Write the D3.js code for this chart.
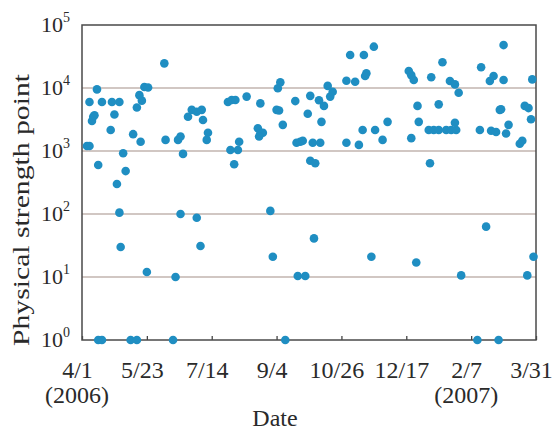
<!DOCTYPE html>
<html>
<head>
<meta charset="utf-8">
<script src="https://cdn.jsdelivr.net/npm/d3@7"></script>
<style>
  body { margin: 0; background: #fff; }
  text { font-family: 'Liberation Serif', 'Times New Roman', serif; fill: #2a2a2a; }
</style>
</head>
<body>
<div id="chart"></div>
<script>
// observation dates (2006-04-01 .. 2007-03-31)
const dates = [
  '2006-04-05', '2006-04-07', '2006-04-07', '2006-04-13', '2006-04-09', '2006-04-10', '2006-04-11', '2006-04-14',
  '2006-04-17', '2006-04-14', '2006-04-17', '2006-04-25', '2006-05-01', '2006-04-27', '2006-04-24', '2006-05-04',
  '2006-05-06', '2006-04-29', '2006-05-01', '2006-05-02', '2006-05-10', '2006-05-15', '2006-05-12', '2006-05-18',
  '2006-05-15', '2006-05-17', '2006-05-19', '2006-05-21', '2006-05-24', '2006-06-06', '2006-06-07', '2006-05-23',
  '2006-06-13', '2006-06-15', '2006-06-17', '2006-06-19', '2006-06-21', '2006-06-19', '2006-06-25', '2006-06-28',
  '2006-07-02', '2006-07-06', '2006-07-07', '2006-07-11', '2006-07-10', '2006-07-02', '2006-07-05', '2006-07-27',
  '2006-07-29', '2006-07-30', '2006-08-02', '2006-08-11', '2006-08-22', '2006-08-04', '2006-08-05', '2006-08-01',
  '2006-08-20', '2006-08-22', '2006-08-24', '2006-08-21', '2006-09-04', '2006-09-06', '2006-09-05', '2006-09-07',
  '2006-09-09', '2006-08-30', '2006-09-01', '2006-09-11', '2006-09-19', '2006-09-20', '2006-09-23', '2006-09-25',
  '2006-10-01', '2006-09-29', '2006-10-03', '2006-10-09', '2006-10-01', '2006-10-05', '2006-09-21', '2006-09-27',
  '2006-10-04', '2006-10-08', '2006-10-12', '2006-10-10', '2006-10-15', '2006-10-17', '2006-10-19', '2006-10-30',
  '2006-11-06', '2006-11-02', '2006-11-13', '2006-11-15', '2006-11-14', '2006-11-21', '2006-10-30', '2006-11-09',
  '2006-11-12', '2006-11-22', '2006-11-28', '2006-12-02', '2006-11-19', '2006-12-19', '2006-12-21', '2006-12-23',
  '2006-12-26', '2006-12-27', '2006-12-21', '2007-01-06', '2007-01-15', '2007-01-12', '2007-01-04', '2007-01-08',
  '2007-01-12', '2007-01-18', '2007-01-22', '2007-01-26', '2007-01-25', '2007-01-21', '2007-01-25', '2007-01-28',
  '2007-01-05', '2006-12-25', '2007-01-30', '2007-02-15', '2007-02-22', '2007-02-25', '2007-03-05', '2007-03-05',
  '2007-02-14', '2007-02-23', '2007-02-27', '2007-03-02', '2007-03-03', '2007-03-09', '2007-03-07', '2007-03-18',
  '2007-03-20', '2007-03-22', '2007-03-25', '2007-03-27', '2007-03-28', '2007-02-19', '2007-03-24', '2007-03-29',
  '2007-02-12', '2007-03-01'
]

// physical strength points, same order as dates
const values = [
  1200, 1200, 6000, 9500, 3000, 3500, 3700, 600,
  6000, 1, 1, 6000, 6000, 3800, 2150, 920,
  480, 300, 105, 30, 1, 1, 1850, 1400,
  4900, 7700, 6300, 10400, 10200, 24600, 1500, 12,
  1, 10, 1500, 1700, 900, 100, 3500, 4500,
  4200, 4500, 3100, 1950, 1500, 87, 31, 6000,
  1040, 6450, 6450, 7300, 5700, 1040, 1400, 615,
  2300, 1900, 1950, 1700, 4500, 4400, 9900, 12300,
  2600, 112, 21, 1, 6200, 1350, 1400, 1450,
  7500, 3900, 1350, 1350, 700, 640, 10.4, 10.4,
  41, 6400, 5200, 2900, 10800, 7300, 8700, 13000,
  12600, 33400, 33400, 17100, 15500, 45300, 1350, 1250,
  2150, 2150, 1500, 2900, 21, 18600, 16000, 13400,
  5200, 2900, 1600, 14800, 25600, 5500, 2150, 2150,
  2150, 2150, 2150, 2150, 2800, 12900, 11400, 8400,
  640, 17, 10.6, 21300, 12900, 15500, 13400, 48000,
  2150, 2100, 2000, 4500, 4600, 2600, 1900, 1300,
  1450, 5200, 4800, 3200, 13700, 63, 10.6, 21,
  1, 1
]

const tickDates = ['2006-04-01', '2006-05-23', '2006-07-14', '2006-09-04', '2006-10-26', '2006-12-17', '2007-02-07', '2007-03-31']
const tickLabels = ['4/1', '5/23', '7/14', '9/4', '10/26', '12/17', '2/7', '3/31']
const yearLabels = [['2006-04-01', '(2006)'], ['2007-02-07', '(2007)']]
const yTicks = [1, 10, 100, 1000, 10000, 100000]

const margin = { top: 25, left: 82, right: 17, bottom: 93 }
const width = 553 - margin.left - margin.right
const height = 433 - margin.top - margin.bottom

const parse = d3.timeParse('%Y-%m-%d')

const svg = d3
  .select('#chart')
  .append('svg')
  .attr('width', 553)
  .attr('height', 433)
  .append('g')
  .attr('transform', 'translate(' + margin.left + ',' + margin.top + ')')

const x = d3.scaleTime()
  .domain([parse('2006-04-01'), parse('2007-03-31')])
  .range([0, width])

const y = d3.scaleLog()
  .domain([1, 100000])
  .range([height, 0])

// gridlines
svg.selectAll('.grid')
  .data(yTicks.slice(1, -1))
  .enter()
  .append('line')
  .attr('class', 'grid')
  .attr('x1', 0)
  .attr('x2', width)
  .attr('y1', d => y(d))
  .attr('y2', d => y(d))
  .attr('stroke', '#a48f88')
  .attr('stroke-width', 1.2)

// bottom axis, ticks pointing inward
const xAxis = d3.axisBottom(x)
  .tickValues(tickDates.map(parse))
  .tickSizeInner(-4)
  .tickSizeOuter(0)
  .tickPadding(21)
  .tickFormat((d, i) => tickLabels[i])

const gx = svg.append('g')
  .attr('transform', `translate(0,${height})`)
  .call(xAxis)
gx.select('.domain').remove()
gx.selectAll('line').attr('stroke', '#444').attr('stroke-width', 1.3)
gx.selectAll('text')
  .attr('dx', -5)
  .style('font-size', '24px')
  .style('font-family', "'Liberation Serif', serif")
  .attr('fill', '#2a2a2a')

svg.selectAll('.year')
  .data(yearLabels)
  .enter()
  .append('text')
  .attr('class', 'year')
  .attr('x', d => x(parse(d[0])) - 5)
  .attr('y', height + 63)
  .attr('text-anchor', 'middle')
  .style('font-size', '24px')
  .text(d => d[1])

// frame
svg.append('rect')
  .attr('width', width)
  .attr('height', height)
  .attr('fill', 'none')
  .attr('stroke', '#4a4a4a')
  .attr('stroke-width', 1.5)

// y labels as 10^n
const yl = svg.selectAll('.ylab')
  .data(yTicks)
  .enter()
  .append('text')
  .attr('class', 'ylab')
  .attr('x', -12)
  .attr('y', d => y(d) + 7)
  .attr('text-anchor', 'end')
  .style('font-size', '22px')
yl.append('tspan').text('10')
yl.append('tspan')
  .attr('dy', -10)
  .style('font-size', '14px')
  .text(d => Math.round(Math.log10(d)))

// points
svg.selectAll('circle')
  .data(dates)
  .enter()
  .append('circle')
  .attr('cx', d => x(parse(d)))
  .attr('cy', (d, i) => y(values[i]))
  .attr('r', 4.3)
  .attr('fill', '#1f8ec2')

// axis titles
svg.append('text')
  .attr('x', 193)
  .attr('y', height + 86)
  .attr('text-anchor', 'middle')
  .style('font-size', '24px')
  .text('Date')

svg.append('text')
  .attr('transform', `translate(-53,${(73 + 347) / 2 - margin.top}) rotate(-90)`)
  .attr('text-anchor', 'middle')
  .attr('textLength', 272)
  .attr('lengthAdjust', 'spacingAndGlyphs')
  .style('font-size', '24px')
  .text('Physical strength point')
</script>
</body>
</html>
